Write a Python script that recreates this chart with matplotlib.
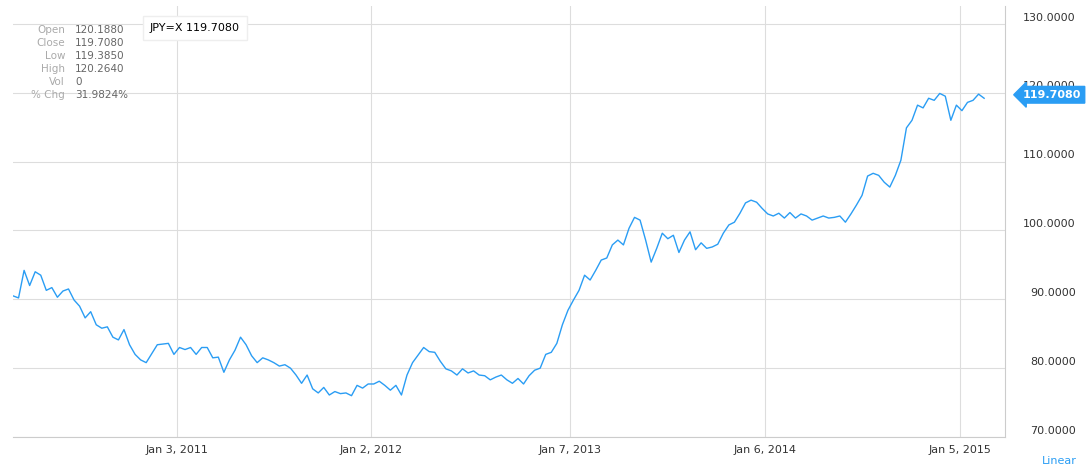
import pandas as pd
import matplotlib.pyplot as plt

vals = [90.5, 90.2, 94.2, 92.0, 94.0, 93.5, 91.3, 91.7, 90.3, 91.2, 91.5, 89.9, 89.0, 87.3, 88.2,
        86.3, 85.8, 86.0, 84.5, 84.1, 85.6, 83.4, 82.0, 81.2, 80.8, 82.1, 83.4, 83.5, 83.6, 82.0,
        83.0, 82.7, 83.0, 82.0, 83.0, 83.0, 81.5, 81.6, 79.4, 81.2, 82.6, 84.5, 83.4, 81.8, 80.8,
        81.5, 81.2, 80.8, 80.3, 80.5, 80.0, 79.0, 77.8, 79.0, 77.0, 76.4, 77.2, 76.1, 76.6, 76.3,
        76.4, 76.0, 77.5, 77.1, 77.7, 77.7, 78.1, 77.5, 76.8, 77.5, 76.1, 79.0, 80.8, 81.9, 83.0,
        82.4, 82.3, 81.0, 79.9, 79.6, 79.0, 79.9, 79.3, 79.6, 79.0, 78.9, 78.3, 78.7, 79.0, 78.3,
        77.8, 78.5, 77.7, 78.9, 79.7, 80.0, 82.0, 82.3, 83.6, 86.3, 88.4, 89.9, 91.3, 93.5, 92.8,
        94.2, 95.7, 96.0, 97.9, 98.6, 97.9, 100.3, 101.9, 101.5, 98.6, 95.4, 97.4, 99.6, 98.8, 99.3,
        96.8, 98.6, 99.8, 97.2, 98.2, 97.4, 97.6, 98.0, 99.6, 100.8, 101.2, 102.5, 104.0, 104.4, 104.1,
        103.2, 102.4, 102.1, 102.5, 101.8, 102.6, 101.8, 102.4, 102.1, 101.5, 101.8, 102.1, 101.8, 101.9, 102.1,
        101.2, 102.4, 103.7, 105.1, 107.9, 108.3, 108.0, 107.0, 106.3, 108.0, 110.2, 114.9, 116.0, 118.2, 117.8,
        119.2, 118.9, 119.9, 119.5, 116.0, 118.2, 117.4, 118.6, 118.9, 119.8, 119.2]
dates = pd.date_range('2010-03-03', '2015-02-20', periods=len(vals))

tick_dates = pd.to_datetime(['2011-01-03', '2012-01-02', '2013-01-07', '2014-01-06', '2015-01-05'])
tick_labels = ['Jan 3, 2011', 'Jan 2, 2012', 'Jan 7, 2013', 'Jan 6, 2014', 'Jan 5, 2015']
yticks = [70, 80, 90, 100, 110, 120, 130]

info_keys = ['Open', 'Close', 'Low', 'High', 'Vol', '% Chg']
info_vals = ['120.1880', '119.7080', '119.3850', '120.2640', '0', '31.9824%']
last = '119.7080'

blue = '#2a9df4'
grid = '#dddddd'

fig = plt.figure(figsize=(10.91, 4.70), dpi=100)
ax = fig.add_axes([13/1091, 33/470, 992/1091, 431/470])
ax.plot(dates, vals, color=blue, lw=1)
ax.set_xlim(pd.Timestamp('2010-03-03'), pd.Timestamp('2015-03-31'))
ax.set_ylim(70, 132.6)
ax.set_xticks(tick_dates)
ax.set_xticklabels(tick_labels)
ax.set_yticks(yticks)
ax.yaxis.tick_right()
ax.set_yticklabels([])
ax.tick_params(length=0, labelsize=8, colors='#333333', pad=6)
ax.grid(True, color=grid, lw=0.8)
for s in ['left', 'top']:
    ax.spines[s].set_visible(False)
for s in ['right', 'bottom']:
    ax.spines[s].set_color('#cccccc')

for y in yticks:
    ax.annotate(f'{y:.4f}', xy=(1, y), xycoords=('axes fraction', 'data'),
                xytext=(51, 1), textcoords='offset points', ha='right', va='bottom',
                fontsize=8, color='#333333', annotation_clip=False)
fig.text(1077/1091, 4/470, 'Linear', ha='right', va='bottom', fontsize=8, color=blue)

# value tag
lv = float(last)
ax.annotate(last, xy=(1, lv), xycoords=('axes fraction', 'data'), xytext=(55, 0),
            textcoords='offset points', ha='right', va='center', fontsize=8,
            color='white', fontweight='bold', annotation_clip=False,
            bbox=dict(boxstyle='larrow,pad=0.3', fc=blue, ec=blue))

# info panel
for i, (k, v) in enumerate(zip(info_keys, info_vals)):
    y = 1 - (30 + i * 13) / 470
    fig.text(65/1091, y, k, ha='right', va='center', fontsize=7.5, color='#aaaaaa')
    fig.text(75/1091, y, v, ha='left', va='center', fontsize=7.5, color='#666666')
fig.text(195/1091, 1 - 28/470, 'JPY=X 119.7080', ha='center', va='center', fontsize=8,
         color='black', bbox=dict(boxstyle='square,pad=0.6', fc='white', ec='#eeeeee'))
fig.lines.append(plt.Line2D([145/1091, 246/1091], [1 - 39/470] * 2, color=blue, lw=1.2,
                            transform=fig.transFigure))

fig.savefig('out.png')
